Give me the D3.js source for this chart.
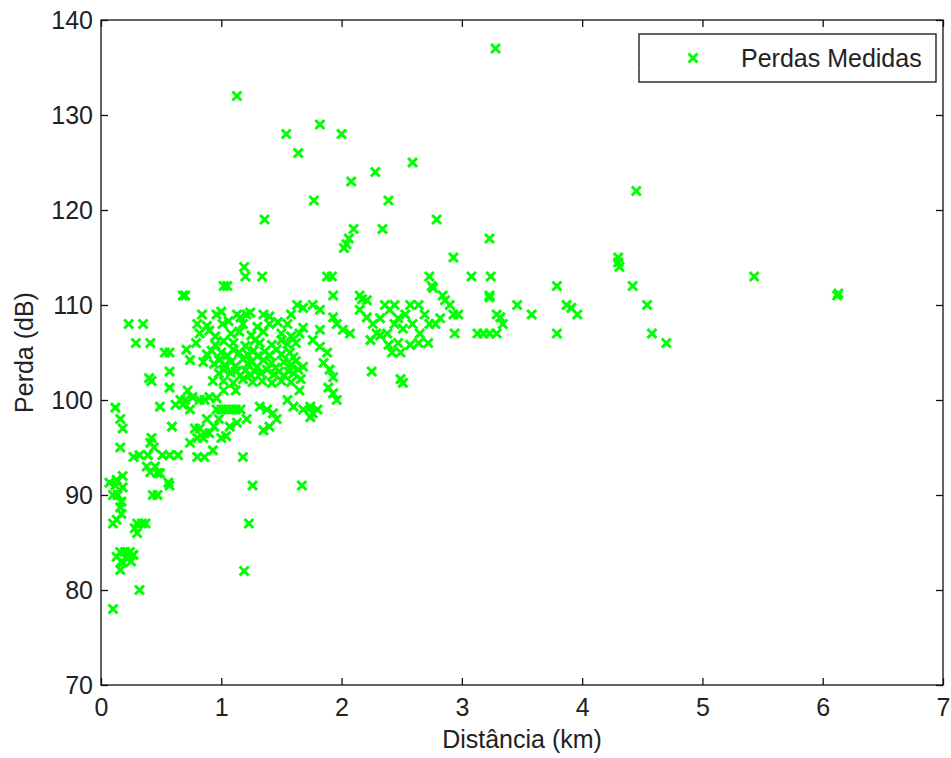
<!DOCTYPE html>
<html>
<head>
<meta charset="utf-8">
<script src="https://cdn.jsdelivr.net/npm/d3@7"></script>
<style>
  html, body { margin: 0; padding: 0; background: #fff; }
  svg { display: block; font-family: "Liberation Sans", Arial, sans-serif; }
</style>
</head>
<body>
<svg id="chart" width="951" height="758"></svg>
<script>
// ---- data ----
const xTicks = [0, 1, 2, 3, 4, 5, 6, 7];
const yTicks = [70, 80, 90, 100, 110, 120, 130, 140];
const xTitle = "Distância (km)";
const yTitle = "Perda (dB)";
const legendLabel = "Perdas Medidas";

// [distância km, perda dB]
const pontosAltos = [
  [3.28,137],[1.13,132],[1.54,128],[1.82,129],[2.0,128],[1.64,126],[2.59,125],[2.28,124],
  [2.08,123],[4.45,122],[1.77,121],[2.39,121],[1.36,119],[2.79,119],[2.10,118],[2.34,118],
  [2.06,117],[2.04,116.4],[2.02,116],[3.23,117],[2.93,115],[4.30,115],[4.30,114.5],[4.31,114],
  [1.19,114],[1.20,113],[1.34,113],[1.88,113],[1.92,113],[2.73,113],[3.08,113],[3.24,113],
  [5.43,113],[1.02,112],[1.05,112],[2.75,112],[2.76,111.8],[3.79,112],[4.42,112],[4.51,135]
];
const pontosMedios = [
  [0.68,111],[0.70,111],[1.93,111],[2.15,111],[2.84,111],[3.23,111],[6.12,111],[6.13,111.2],[2.17,110.6],
  [1.63,110],[1.68,109.7],[1.76,110],[1.82,109.5],[2.21,110.5],[2.36,110],[2.44,110],[2.57,110],
  [2.64,110],[2.86,110.5],[2.90,110],[3.23,110.8],[3.46,110],[3.87,110],[3.91,109.7],[4.54,110],
  [0.84,109],[0.96,109],[1.0,109.3],[1.13,109],[1.16,108.7],[1.21,109],[1.24,109.2],[1.35,109],[1.40,108.8],
  [1.58,109],[1.93,108.7],[2.15,109.5],[2.21,108.7],[2.40,109.5],[2.53,109],[2.69,109],[2.93,109],
  [2.97,109],[3.29,109],[3.32,108.7],[3.58,109],[3.96,109],
  [0.23,108],[0.35,108],[0.80,108],[0.88,107.8],[1.01,108],[1.06,108.3],[1.18,108],[1.30,107.7],[1.40,108],
  [1.47,108.2],[1.55,108],[1.96,108],[2.26,108],[2.32,108.6],[2.44,108],[2.47,108.6],[2.59,108],
  [2.73,108],[2.78,108],[2.82,108.6],[3.34,108],[1.68,107.6],
  [0.82,107],[0.90,107.3],[1.08,107],[1.25,106.8],[1.35,107.2],[1.50,107],[1.58,106.7],[1.65,107],[1.82,107.4],
  [2.01,107.4],[2.07,107],[2.29,107],[2.38,107],[2.51,107.5],[2.65,107],[2.94,107],[3.13,107],
  [3.18,107],[3.23,107],[3.29,107],[3.79,107],[4.58,107],[0.95,106.7],[1.15,107.2],
  [0.29,106],[0.41,106],[0.79,106],[0.95,105.8],[1.02,106.2],[1.10,106],[1.20,105.7],[1.28,106.3],[1.32,106],
  [1.42,105.8],[1.50,106.3],[1.55,105.9],[1.62,106],[1.76,106.3],[2.24,106.3],[2.32,106.8],[2.39,105.8],
  [2.47,106],[2.57,105.8],[2.64,106],[2.72,106],[4.70,106],
  [0.53,105],[0.57,105],[0.71,105.3],[0.88,104.8],[0.92,105.2],[1.0,105],[1.05,104.7],[1.10,105.3],[1.15,105],
  [1.22,104.8],[1.27,105.2],[1.30,104.6],[1.36,105.1],[1.40,104.7],[1.46,105.3],[1.50,104.8],[1.57,105],[1.60,104.5],
  [1.82,105.6],[1.88,105],[2.42,105],[2.49,105],
  [0.74,104.2],[0.85,104],[0.94,103.8],[0.98,104.2],[1.03,103.7],[1.08,104],[1.12,103.6],[1.18,104.3],[1.22,103.8],
  [1.25,104],[1.30,103.5],[1.35,104.2],[1.42,103.9],[1.45,103.4],[1.52,104],[1.58,103.7],[1.62,104.1],[1.85,103.9],[1.68,103.5],
  [0.57,103],[0.98,102.8],[1.02,103.2],[1.08,102.9],[1.12,103],[1.16,102.6],[1.20,103.1],[1.24,102.7],[1.28,103],
  [1.33,102.8],[1.38,103.2],[1.44,102.7],[1.48,103],[1.52,102.6],[1.56,103],[1.60,102.8],[1.64,103.2],[1.90,103.2],[2.25,103],
  [0.40,102.3],[0.42,102],[0.93,102],[1.02,102],[1.10,101.8],[1.18,102.2],[1.26,101.9],[1.34,102],
  [1.42,101.8],[1.50,102],[1.58,101.9],[1.66,102.2],[1.93,102.4],[2.49,102.2],[2.51,101.8]
];
const pontosBaixos = [
  [0.57,101.3],[0.72,101],[1.02,101],[1.12,101],[1.65,101],[1.89,101.3],[1.93,100.7],
  [0.66,100],[0.70,100],[0.76,100.3],[0.82,100],[0.90,100.3],[0.96,100.2],[1.55,100],[1.96,100],[0.86,100],
  [0.12,99.2],[0.49,99.3],[0.62,99.5],[0.68,99.5],[0.74,99],[0.96,99],[1.0,99],[1.04,99],[1.08,99],
  [1.12,99],[1.16,99],[1.32,99.3],[1.38,99],[1.60,99.3],[1.74,99.3],[1.68,99],[1.80,99],
  [0.16,98],[0.98,98],[1.13,97.6],[1.21,98],[1.43,98.6],[1.46,98],[1.76,98.6],[1.74,98.2],[0.88,98],
  [0.18,97],[0.59,97.2],[0.82,97],[0.94,97.2],[1.07,97.2],[1.40,97.2],[1.35,96.8],[0.78,97],
  [0.42,96],[0.85,96],[0.86,96.5],[0.90,96.5],[1.00,96],[1.04,96.2],[0.80,96],
  [0.16,95],[0.41,95.5],[0.74,95.5],[0.93,94.7],[0.44,95],
  [0.27,94],[0.32,94.2],[0.39,94.2],[0.51,94.2],[0.57,94.2],[0.64,94.2],[0.80,94],[0.86,94],[1.18,94],
  [0.45,93],[0.38,93],[0.47,92.3],
  [0.13,91.6],[0.18,92],[0.41,92.4],[0.49,92.3],
  [0.07,91.3],[0.18,90.8],[0.56,91.3],[0.57,91],[1.26,91],[1.67,91],[0.12,91],
  [0.10,90],[0.43,90],[0.47,90],[0.14,90],
  [0.16,88.7],[0.17,89.3],[0.17,88],[0.13,87.4],
  [0.10,87],[0.30,87],[0.34,87],[0.37,87],[1.23,87],[0.28,86.5],[0.30,86],
  [0.20,84],[0.24,84],[0.27,83.7],[0.13,83.5],[0.16,84],
  [0.17,83],[0.22,83.3],[0.25,83],[0.18,82.9],
  [0.16,82.1],[1.19,82],[0.32,80],[0.10,78]
];

// ---- layout ----
const svg = d3.select("#chart");
const mLeft = 101, mRight = 943, mTop = 20, mBottom = 685;
const x = d3.scaleLinear().domain([0, 7]).range([mLeft, mRight]);
const y = d3.scaleLinear().domain([70, 140]).range([mBottom, mTop]);
const fontSize = 25;
const textColor = "#222";
const green = "#00ff00";

// points (drawn first so legend box covers them)
const marker = "M-4.5,-4.5L4.5,4.5M-4.5,4.5L4.5,-4.5";
const allPts = pontosAltos.concat(pontosMedios, pontosBaixos);
svg.append("g").selectAll("path").data(allPts).join("path")
  .attr("d", marker)
  .attr("transform", d => `translate(${x(d[0])},${y(d[1])})`)
  .attr("stroke", green).attr("stroke-width", 3).attr("fill", "none");

// axes
const xAxis = d3.axisBottom(x).tickValues(xTicks).tickFormat(d3.format("d"))
  .tickSizeInner(-7).tickSizeOuter(0).tickPadding(13);
const yAxis = d3.axisLeft(y).tickValues(yTicks).tickFormat(d3.format("d"))
  .tickSizeInner(-7).tickSizeOuter(0).tickPadding(8);
const xTopAxis = d3.axisTop(x).tickValues(xTicks).tickFormat("")
  .tickSizeInner(-7).tickSizeOuter(0);
const yRightAxis = d3.axisRight(y).tickValues(yTicks).tickFormat("")
  .tickSizeInner(-7).tickSizeOuter(0);

function style(g) {
  g.selectAll("path.domain").remove();
  g.selectAll("line").attr("stroke", "#111").attr("stroke-width", 1.3);
  g.selectAll("text").attr("fill", textColor).attr("font-size", fontSize)
    .attr("font-family", "Liberation Sans, Arial, sans-serif");
}
svg.append("g").attr("transform", `translate(0,${mBottom})`).call(xAxis).call(style);
svg.append("g").attr("transform", `translate(${mLeft},0)`).call(yAxis).call(style);
svg.append("g").attr("transform", `translate(0,${mTop})`).call(xTopAxis).call(style);
svg.append("g").attr("transform", `translate(${mRight},0)`).call(yRightAxis).call(style);

// frame
svg.append("rect").attr("x", mLeft).attr("y", mTop)
  .attr("width", mRight - mLeft).attr("height", mBottom - mTop)
  .attr("fill", "none").attr("stroke", "#111").attr("stroke-width", 1.3);

// axis titles
svg.append("text").attr("x", (mLeft + mRight) / 2).attr("y", 748)
  .attr("text-anchor", "middle").attr("font-size", fontSize).attr("fill", textColor)
  .text(xTitle);
svg.append("text").attr("transform", `translate(33,${(mTop + mBottom) / 2}) rotate(-90)`)
  .attr("text-anchor", "middle").attr("font-size", fontSize).attr("fill", textColor)
  .text(yTitle);

// legend
const lg = svg.append("g");
lg.append("rect").attr("x", 639).attr("y", 34).attr("width", 297).attr("height", 48)
  .attr("fill", "#fff").attr("stroke", "#111").attr("stroke-width", 1.3);
lg.append("path").attr("d", marker).attr("transform", "translate(693,58)")
  .attr("stroke", green).attr("stroke-width", 3).attr("fill", "none");
lg.append("text").attr("x", 741).attr("y", 67).attr("font-size", fontSize)
  .attr("fill", textColor).text(legendLabel);
</script>
</body>
</html>
